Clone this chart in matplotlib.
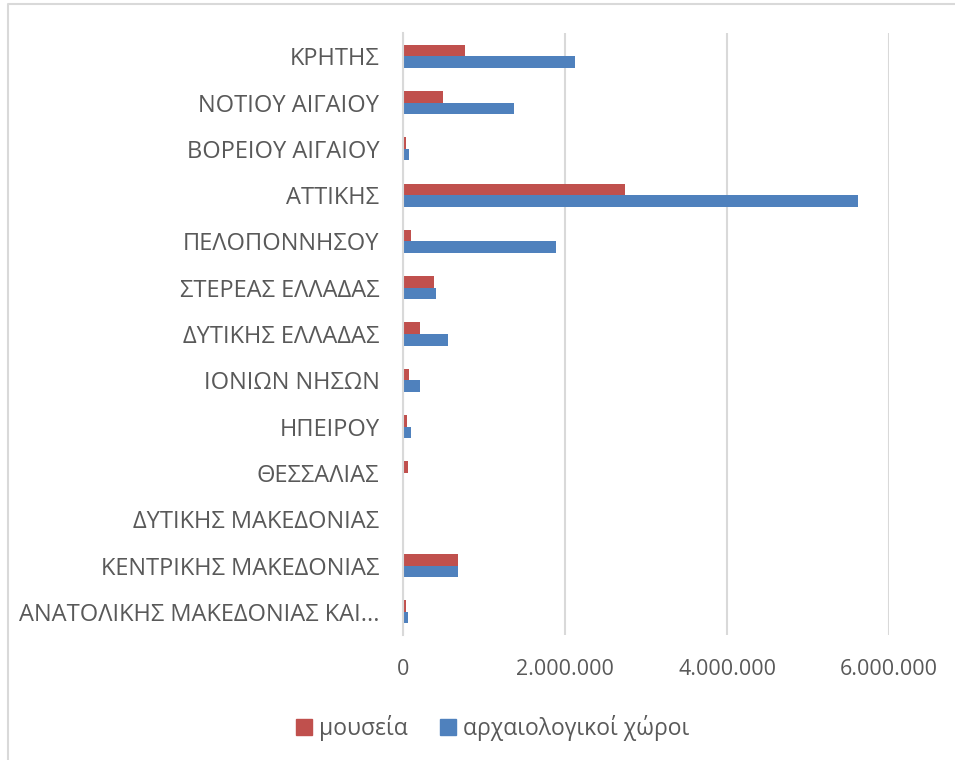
import numpy as np
import matplotlib.pyplot as plt
from matplotlib.lines import Line2D

plt.rcParams['font.family'] = ['Open Sans', 'DejaVu Sans']

# Regions, bottom to top as drawn
regions = [
    "ΑΝΑΤΟΛΙΚΗΣ ΜΑΚΕΔΟΝΙΑΣ ΚΑΙ...",
    "ΚΕΝΤΡΙΚΗΣ ΜΑΚΕΔΟΝΙΑΣ",
    "ΔΥΤΙΚΗΣ ΜΑΚΕΔΟΝΙΑΣ",
    "ΘΕΣΣΑΛΙΑΣ",
    "ΗΠΕΙΡΟΥ",
    "ΙΟΝΙΩΝ ΝΗΣΩΝ",
    "ΔΥΤΙΚΗΣ ΕΛΛΑΔΑΣ",
    "ΣΤΕΡΕΑΣ ΕΛΛΑΔΑΣ",
    "ΠΕΛΟΠΟΝΝΗΣΟΥ",
    "ΑΤΤΙΚΗΣ",
    "ΒΟΡΕΙΟΥ ΑΙΓΑΙΟΥ",
    "ΝΟΤΙΟΥ ΑΙΓΑΙΟΥ",
    "ΚΡΗΤΗΣ",
]

# visitors
museums = [42000, 680000, 17000, 62000, 55000, 71000, 211000, 385000,
           96000, 2740000, 34000, 497000, 763000]
sites = [67000, 680000, 3000, 17000, 100000, 204000, 550000, 406000,
         1885000, 5620000, 80000, 1375000, 2125000]

series_names = ["μουσεία", "αρχαιολογικοί χώροι"]

xticks = [0, 2000000, 4000000, 6000000]
xtick_labels = ["0", "2.000.000", "4.000.000", "6.000.000"]

red = "#c0504d"
blue = "#4f81bd"
grid = "#d9d9d9"
txt = "#595959"

fig = plt.figure(figsize=(9.55, 7.6), dpi=100)
ax = fig.add_axes([0.422, 0.1645, 0.509, 0.792])

y = np.arange(len(regions))
h = 0.25
ax.barh(y + h / 2, museums, height=h, color=red, label=series_names[0])
ax.barh(y - h / 2, sites, height=h, color=blue, label=series_names[1])

ax.set_xlim(0, 6000000)
ax.set_ylim(-0.5, len(regions) - 0.5)
ax.set_xticks(xticks)
ax.set_xticklabels(xtick_labels, fontsize=15.5)
ax.set_yticks(y)
ax.set_yticklabels(regions, fontsize=17)
ax.tick_params(axis="both", length=0, colors=txt)
ax.tick_params(axis="x", pad=17)
ax.tick_params(axis="y", pad=17)

ax.grid(axis="x", color=grid, linewidth=1.5)
ax.set_axisbelow(True)
for s in ["top", "right", "bottom"]:
    ax.spines[s].set_visible(False)
ax.spines["left"].set_color(grid)
ax.spines["left"].set_linewidth(1.5)

# square legend keys like the original
keys = [Line2D([], [], marker="s", linestyle="none", markersize=11,
               markerfacecolor=c, markeredgecolor=c) for c in (red, blue)]
fig.legend(keys, series_names, loc="center", bbox_to_anchor=(0.516, 0.042),
           ncol=2, frameon=False, fontsize=16.5, labelcolor=txt,
           handlelength=0.7, handletextpad=0.3, columnspacing=1.4)

# chart border: only top and left edges are visible
fig.add_artist(Line2D([8 / 955, 8 / 955, 1.0], [0.0, 1 - 4 / 760, 1 - 4 / 760],
                      transform=fig.transFigure, color=grid, linewidth=1.5))

fig.savefig("out.png", dpi=100)
